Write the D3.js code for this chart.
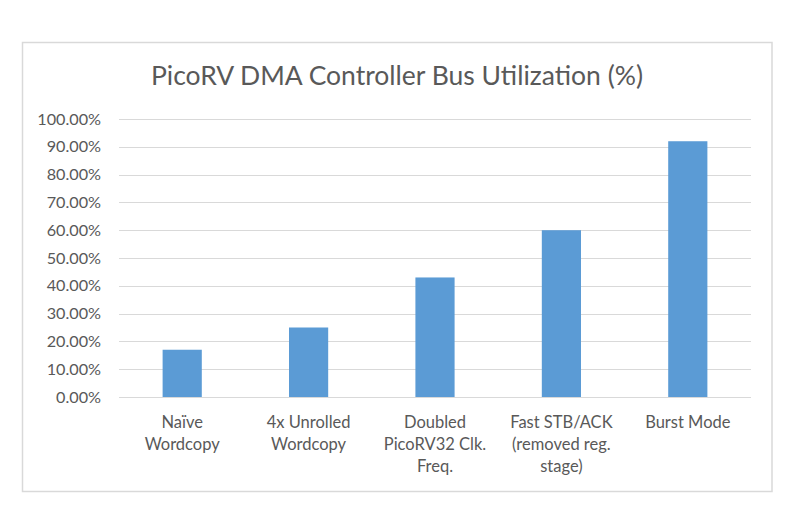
<!DOCTYPE html>
<html>
<head>
<meta charset="utf-8">
<script src="https://cdn.jsdelivr.net/npm/d3@7"></script>
<style>
  body { margin: 0; background: #fff; }
  #vis { width: 800px; height: 528px; }
  text { font-family: Lato, "Open Sans", sans-serif; fill: #595959; }
</style>
</head>
<body>
<div id="vis"></div>
<script>
var categories = [
    ["Naïve", "Wordcopy"],
    ["4x Unrolled", "Wordcopy"],
    ["Doubled", "PicoRV32 Clk.", "Freq."],
    ["Fast STB/ACK", "(removed reg.", "stage)"],
    ["Burst Mode"]
];
var utilization = [0.17, 0.25, 0.43, 0.60, 0.92];
var y_ticks = [0, 0.1, 0.2, 0.3, 0.4, 0.5, 0.6, 0.7, 0.8, 0.9, 1.0];

var bar_color = "#5B9BD5";
var grid_color = "#D9D9D9";

var width = 800, height = 528;

var margin = {
    top: 119,
    bottom: 131,
    left: 119,
    right: 49
}

var svg = d3.select('#vis')
    .append('svg')
    .attr('width', width)
    .attr('height', height);

// chart area border
svg.append('rect')
    .attr('x', 22.5)
    .attr('y', 42.5)
    .attr('width', 749.5)
    .attr('height', 449)
    .attr('fill', '#fff')
    .attr('stroke', '#D9D9D9')
    .attr('stroke-width', 1.5);

svg.append('text')
    .attr('x', 397)
    .attr('y', 85)
    .attr('text-anchor', 'middle')
    .style('font-size', '26.5px')
    .text('PicoRV DMA Controller Bus Utilization (%)');

var g = svg.append('g')
    .attr('transform', 'translate(' + margin.left + ',' + margin.top + ')');

var w = width - margin.left - margin.right;
var h = height - margin.top - margin.bottom;

var keys = categories.map(function(d, i) { return i; });

var x_scale = d3.scaleBand()
    .domain(keys)
    .range([0, w])
    .paddingInner(0.69)
    .paddingOuter(0.345);

var x_cat = d3.scaleBand()
    .domain(keys)
    .range([0, w]);

var y_scale = d3.scaleLinear()
    .domain([0, 1])
    .range([h, 0]);

// gridlines
g.append('g')
    .attr('class', 'grid')
    .selectAll('line')
    .data(y_ticks)
    .enter()
    .append('line')
    .attr('x1', 0)
    .attr('x2', w)
    .attr('y1', function(d) { return Math.round(y_scale(d)) + 0.5; })
    .attr('y2', function(d) { return Math.round(y_scale(d)) + 0.5; })
    .attr('stroke', grid_color)
    .attr('stroke-width', 1);

// y axis labels
var y_axis = d3.axisLeft(y_scale)
    .tickValues(y_ticks)
    .tickSize(0)
    .tickPadding(18)
    .tickFormat(function(d) { return (d * 100).toFixed(2) + '%'; });

g.append('g')
    .attr('class', 'y axis')
    .call(y_axis)
    .call(function(s) { s.select('.domain').remove(); })
    .selectAll('text')
    .style('font-size', '16.2px')
    .style('fill', '#595959');

// bars
g.selectAll('.bar')
    .data(utilization)
    .enter()
    .append('rect')
    .attr('class', 'bar')
    .attr('x', function(d, i) { return x_scale(i); })
    .attr('width', x_scale.bandwidth())
    .attr('y', function(d) { return y_scale(d); })
    .attr('height', function(d) { return h - y_scale(d); })
    .attr('fill', bar_color);

// category labels, multi-line
var x_labels = g.append('g')
    .attr('class', 'x axis')
    .attr('transform', 'translate(0,' + h + ')');

x_labels.selectAll('text')
    .data(categories)
    .enter()
    .append('text')
    .attr('x', function(d, i) { return x_cat(i) + x_cat.bandwidth() / 2; })
    .attr('y', 31)
    .attr('text-anchor', 'middle')
    .style('font-size', '16.5px')
    .each(function(d) {
        var t = d3.select(this);
        d.forEach(function(line, j) {
            t.append('tspan')
                .attr('x', t.attr('x'))
                .attr('dy', j === 0 ? 0 : 22)
                .text(line);
        });
    });
</script>
</body>
</html>
